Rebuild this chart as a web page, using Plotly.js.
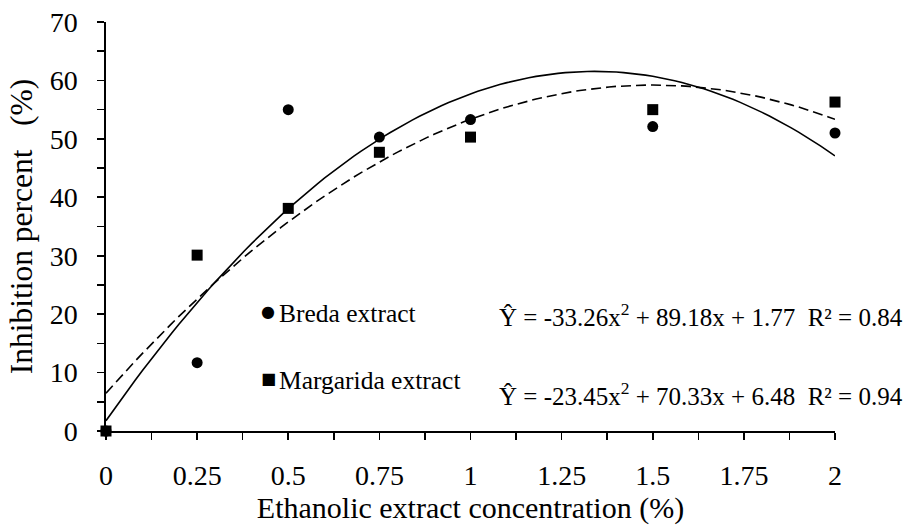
<!DOCTYPE html>
<html>
<head>
<meta charset="utf-8">
<script src="https://cdn.plot.ly/plotly-3.0.1.min.js"></script>
<style>html,body{margin:0;padding:0;background:#fff}#chart{width:909px;height:526px}</style>
</head>
<body>
<div id="chart"></div>
<script>
// Observed data
const concentration = [0, 0.25, 0.5, 0.75, 1, 1.5, 2];
const bredaValues = [0, 11.7, 55.0, 50.3, 53.3, 52.1, 51.0];
const margaridaValues = [0, 30.1, 38.1, 47.7, 50.3, 55.0, 56.3];

// Trendline coefficients printed on the chart (a, b, c for a*x^2 + b*x + c)
const bredaCoef = [-33.26, 89.18, 1.77];
const margaridaCoef = [-23.45, 70.33, 6.48];
const bredaR2 = 0.84;
const margaridaR2 = 0.94;

const xTickVals = [0, 0.25, 0.5, 0.75, 1, 1.25, 1.5, 1.75, 2];
const xTickText = ['0', '0.25', '0.5', '0.75', '1', '1.25', '1.5', '1.75', '2'];
const yTickVals = [0, 10, 20, 30, 40, 50, 60, 70];

// trendline drawn from the printed equation
const curveX = [];
for (let i = 0; i <= 100; i++) curveX.push(i * 0.02);
const poly = (c, x) => c[0] * x * x + c[1] * x + c[2];

const font = '"Liberation Serif", "Times New Roman", Times, serif';

const traces = [
  {x: curveX, y: curveX.map(x => poly(bredaCoef, x)), mode: 'lines', type: 'scatter',
   line: {color: '#000', width: 1.6}, hoverinfo: 'skip', showlegend: false},
  {x: curveX, y: curveX.map(x => poly(margaridaCoef, x)), mode: 'lines', type: 'scatter',
   line: {color: '#000', width: 1.6, dash: '10px,5px'}, hoverinfo: 'skip', showlegend: false},
  {x: concentration, y: bredaValues, mode: 'markers', type: 'scatter', name: 'Breda extract',
   marker: {symbol: 'circle', size: 11, color: '#000'}, cliponaxis: false, showlegend: false},
  {x: concentration, y: margaridaValues, mode: 'markers', type: 'scatter', name: 'Margarida extract',
   marker: {symbol: 'square', size: 11, color: '#000'}, cliponaxis: false, showlegend: false}
];

function eq(c, r2) {
  const f = v => v.toFixed(2);
  return 'Ŷ = ' + f(c[0]) + 'x<sup>2</sup> + ' + f(c[1]) + 'x + ' + f(c[2]) + '\u00a0 R² = ' + r2.toFixed(2);
}

const layout = {
  width: 909, height: 526,
  margin: {l: 106, r: 74, t: 22, b: 95},
  paper_bgcolor: '#fff', plot_bgcolor: '#fff',
  font: {family: font, color: '#000', size: 28},
  showlegend: false,
  xaxis: {
    range: [0, 2], tickvals: xTickVals, ticktext: xTickText,
    showline: true, linecolor: '#000', linewidth: 1.6, mirror: false,
    ticks: 'outside', ticklen: 7, tickwidth: 1.6, tickcolor: '#000',
    minor: {tickvals: [0.125, 0.375, 0.625, 0.875, 1.125, 1.375, 1.625, 1.875], ticks: 'outside', ticklen: 7, tickwidth: 1.6, tickcolor: '#000', showgrid: false},
    showgrid: false, zeroline: false,
    tickfont: {family: font, size: 28}, ticklabelstandoff: 12,
    title: {text: 'Ethanolic extract concentration (%)', font: {family: font, size: 30}, standoff: 6}
  },
  yaxis: {
    range: [0, 70], tickvals: yTickVals,
    showline: true, linecolor: '#000', linewidth: 1.6,
    ticks: 'outside', ticklen: 7, tickwidth: 1.6, tickcolor: '#000',
    minor: {dtick: 5, ticks: 'outside', ticklen: 7, tickwidth: 1.6, tickcolor: '#000', showgrid: false},
    showgrid: false, zeroline: false,
    tickfont: {family: font, size: 28}, ticklabelstandoff: 14,
    title: {text: 'Inhibition percent\u00a0\u00a0 (%)\u00a0\u00a0\u00a0', font: {family: font, size: 31.5}, standoff: 8}
  },
  annotations: [
    {xref: 'paper', yref: 'paper', x: (259 - 106) / 729, y: (430 - 311) / 408, xanchor: 'left', yanchor: 'middle',
     text: '●', showarrow: false, font: {family: 'DejaVu Sans', size: 16}},
    {xref: 'paper', yref: 'paper', x: (277 - 106) / 729, y: (430 - 313) / 408, xanchor: 'left', yanchor: 'middle',
     text: 'Breda extract', showarrow: false, font: {family: font, size: 25.5}},
    {xref: 'paper', yref: 'paper', x: (259 - 106) / 729, y: (430 - 378) / 408, xanchor: 'left', yanchor: 'middle',
     text: '■', showarrow: false, font: {family: 'DejaVu Sans', size: 16}},
    {xref: 'paper', yref: 'paper', x: (277 - 106) / 729, y: (430 - 380) / 408, xanchor: 'left', yanchor: 'middle',
     text: 'Margarida extract', showarrow: false, font: {family: font, size: 25.5}},
    {xref: 'paper', yref: 'paper', x: (497 - 106) / 729, y: (430 - 314) / 408, xanchor: 'left', yanchor: 'middle',
     text: eq(bredaCoef, bredaR2), showarrow: false, font: {family: font, size: 25}},
    {xref: 'paper', yref: 'paper', x: (497 - 106) / 729, y: (430 - 393) / 408, xanchor: 'left', yanchor: 'middle',
     text: eq(margaridaCoef, margaridaR2), showarrow: false, font: {family: font, size: 25}}
  ]
};

Plotly.newPlot('chart', traces, layout, {staticPlot: true, displayModeBar: false});
</script>
</body>
</html>
